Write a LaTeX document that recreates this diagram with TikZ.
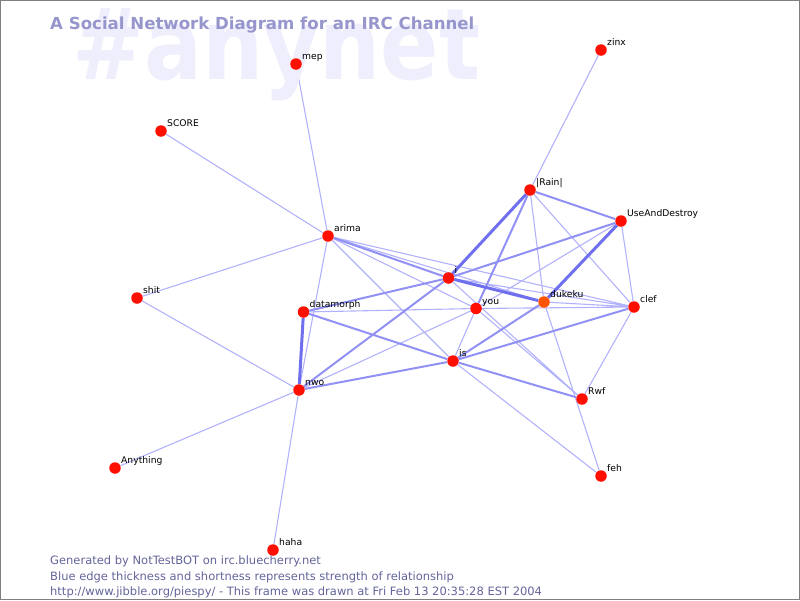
\documentclass[tikz,border=0pt]{standalone}
\usepackage{fontspec}
\setmainfont{DejaVu Sans}
\usetikzlibrary{backgrounds}
\definecolor{wmark}{RGB}{238,238,252}
\definecolor{titleblue}{RGB}{150,150,205}
\definecolor{footblue}{RGB}{100,100,155}
\definecolor{edgeweak}{RGB}{178,178,252}
\definecolor{edgemid}{RGB}{145,145,245}
\definecolor{edgestrong}{RGB}{112,112,238}
\definecolor{nickred}{RGB}{255,15,0}
\definecolor{nickorange}{RGB}{255,85,0}
\newcommand{\nick}[4][dot]{%
  \node[#1] (#2) at (#3) {};
  \node[lbl, xshift=6pt, yshift=4.5pt] (#2-t) at (#2) {#4};}
\begin{document}
\begin{tikzpicture}[x=1pt, y=-1pt,
    dot/.style={circle, fill=nickred, inner sep=0pt, minimum size=11.5pt},
    hotdot/.style={dot, fill=nickorange},
    lbl/.style={anchor=base west, inner sep=0pt, font=\fontsize{9.2}{10}\selectfont},
    foot/.style={anchor=base west, inner sep=0pt, text=footblue, font=\fontsize{11.5}{13}\selectfont},
    weakline/.style={draw=edgeweak, line width=1.1pt},
    midline/.style={draw=edgemid, line width=2pt},
    strongline/.style={draw=edgestrong, line width=3pt}]
\useasboundingbox (0,0) rectangle (800,600);
\node[anchor=base west, inner sep=0pt, text=wmark, font=\bfseries\fontsize{86}{90}\selectfont] (mark) at (72,79) {\scalebox{1}[1.15]{\#anynet}}; % 频道名水印
\node[anchor=base west, inner sep=0pt, text=titleblue, font=\bfseries\fontsize{16.6}{20}\selectfont] (title) at (50,29.5) {A Social Network Diagram for an IRC Channel}; % 标题
% 昵称
\nick{zinx}{601,50}{zinx}
\nick{mep}{296,64}{mep}
\nick{score}{161,131}{SCORE}
\nick{rain}{530,190}{|Rain|}
\nick{uad}{621,221}{UseAndDestroy}
\nick{arima}{328,236}{arima}
\nick{i}{448.5,278}{i}
\nick{shit}{137,298}{shit}
\nick{datamorph}{303.5,312}{datamorph}
\nick{you}{476,308.5}{you}
\nick[hotdot]{dukeku}{544,302}{dukeku}
\nick{clef}{634,307}{clef}
\nick{is}{453,361}{is}
\nick{nwo}{299,390}{nwo}
\nick{rwf}{582,399}{Rwf}
\nick{feh}{601,476}{feh}
\nick{anything}{115,468}{Anything}
\nick{haha}{273,550}{haha}
% 关系连线
\begin{pgfonlayer}{background}
\draw[weakline] (zinx) -- (rain) (mep) -- (arima) (score) -- (arima) (shit) -- (arima)
  (shit) -- (nwo) (anything) -- (nwo) (haha) -- (nwo) (arima) -- (nwo) (arima) -- (is)
  (arima) -- (you) (arima) -- (clef) (arima) -- (dukeku) (i) -- (clef) (i) -- (rwf)
  (you) -- (rwf) (you) -- (clef) (you) -- (is) (you) -- (uad) (you) -- (nwo)
  (datamorph) -- (you) (rain) -- (dukeku) (rain) -- (clef) (uad) -- (clef)
  (dukeku) -- (clef) (clef) -- (rwf) (dukeku) -- (feh) (is) -- (feh); % 弱关系
\draw[midline] (rain) -- (uad) (i) -- (uad) (arima) -- (i) (datamorph) -- (i)
  (nwo) -- (is) (is) -- (dukeku) (nwo) -- (i) (datamorph) -- (is) (is) -- (rwf)
  (is) -- (clef) (you) -- (rain); % 中等关系
\draw[strongline] (i) -- (rain) (i) -- (dukeku) (datamorph) -- (nwo) (uad) -- (dukeku); % 强关系
\end{pgfonlayer}
% 说明文字
\node[foot] (f1) at (50,564) {Generated by NotTestBOT on irc.bluecherry.net};
\node[foot] (f2) at (50,580) {Blue edge thickness and shortness represents strength of relationship};
\node[foot] (f3) at (50,595.5) {http://www.jibble.org/piespy/ - This frame was drawn at Fri Feb 13 20:35:28 EST 2004};
\draw[gray, line width=1pt] (0.5,0.5) rectangle (799.5,599.5); % 边框
\end{tikzpicture}
\end{document}
